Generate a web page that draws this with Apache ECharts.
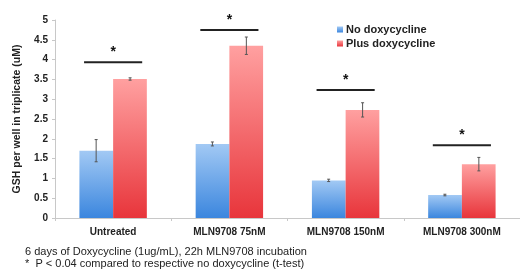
<!DOCTYPE html>
<html><head><meta charset="utf-8">
<script src="https://cdn.jsdelivr.net/npm/echarts@6/dist/echarts.min.js"></script>
<style>html,body{margin:0;padding:0;background:#fff}#c{width:520px;height:279px}</style>
</head><body><div id="c"></div>
<script>
var categories = ['Untreated', 'MLN9708 75nM', 'MLN9708 150nM', 'MLN9708 300nM'];
var noDoxy = [1.70, 1.87, 0.95, 0.58];
var noDoxyErr = [0.28, 0.05, 0.03, 0.02];
var plusDoxy = [3.51, 4.35, 2.73, 1.36];
var plusDoxyErr = [0.03, 0.22, 0.18, 0.17];
var sigLevel = [3.93, 4.75, 3.23, 1.84];
var yTicks = ['0', '0.5', '1', '1.5', '2', '2.5', '3', '3.5', '4', '4.5', '5'];
var footnotes = ['6 days of Doxycycline (1ug/mL), 22h MLN9708 incubation', '*  P < 0.04 compared to respective no doxycycline (t-test)'];

var chart = echarts.init(document.getElementById('c'));
var FONT = 'Liberation Sans, Arial, sans-serif';

function errSeries(vals, errs, side) {
  return {
    type: 'custom', z: 5, silent: true,
    data: vals.map(function (v, i) { return [i, v, errs[i]]; }),
    renderItem: function (params, api) {
      var i = api.value(0), v = api.value(1), e = api.value(2);
      var size = api.size([1, 0])[0];
      var c = api.coord([i, v]);
      var x = c[0] + side * size * 0.146;
      var top = api.coord([i, v + e])[1];
      var bot = api.coord([i, v - e])[1];
      var st = { stroke: '#555', lineWidth: 1 };
      return { type: 'group', children: [
        { type: 'line', shape: { x1: x, y1: top, x2: x, y2: bot }, style: st },
        { type: 'line', shape: { x1: x - 1.5, y1: top, x2: x + 1.5, y2: top }, style: st },
        { type: 'line', shape: { x1: x - 1.5, y1: bot, x2: x + 1.5, y2: bot }, style: st }
      ]};
    }
  };
}

function grad(top, bottom) {
  return new echarts.graphic.LinearGradient(0, 0, 0, 1, [{ offset: 0, color: top }, { offset: 1, color: bottom }]);
}

chart.setOption({
  animation: false,
  textStyle: { fontFamily: FONT },
  grid: { left: 55, right: -8, top: 20, bottom: 61 },
  legend: {
    orient: 'vertical', left: 332, top: 19, itemWidth: 6, itemHeight: 6, itemGap: 3,
    icon: 'rect',
    textStyle: { fontFamily: FONT, fontWeight: 'bold', fontSize: 11, color: '#222', padding: [0, 0, 0, -2] },
    data: ['No doxycycline', 'Plus doxycycline']
  },
  xAxis: {
    type: 'category', data: categories,
    axisLine: { lineStyle: { color: '#c8c8c8' } },
    axisTick: { show: true, length: 3, lineStyle: { color: '#c8c8c8' } },
    axisLabel: { fontFamily: FONT, fontWeight: 'bold', fontSize: 10, color: '#222', margin: 9 }
  },
  yAxis: {
    type: 'value', min: 0, max: 5, interval: 0.5,
    name: 'GSH per well in triplicate (uM)', nameLocation: 'middle', nameGap: 32, nameRotate: 90,
    nameTextStyle: { fontFamily: FONT, fontWeight: 'bold', fontSize: 10.5, color: '#222' },
    axisLine: { show: true, lineStyle: { color: '#c8c8c8' } },
    axisTick: { show: true, length: 3, lineStyle: { color: '#c8c8c8' } },
    splitLine: { show: false },
    axisLabel: { fontFamily: FONT, fontWeight: 'bold', fontSize: 10, color: '#222', margin: 7,
      formatter: function (v) { return yTicks[Math.round(v * 2)]; } }
  },
  series: [
    { name: 'No doxycycline', type: 'bar', data: noDoxy, barGap: '0%', barCategoryGap: '42%',
      itemStyle: { color: grad('#a2c9f4', '#3b86de') } },
    { name: 'Plus doxycycline', type: 'bar', data: plusDoxy,
      itemStyle: { color: grad('#ffa0a0', '#e8353b') } },
    errSeries(noDoxy, noDoxyErr, -1),
    errSeries(plusDoxy, plusDoxyErr, 1),
    { type: 'custom', z: 6, silent: true,
      data: sigLevel.map(function (v, i) { return [i, v]; }),
      renderItem: function (params, api) {
        var c = api.coord([api.value(0), api.value(1)]);
        var size = api.size([1, 0])[0];
        var half = size * 0.25;
        return { type: 'group', children: [
          { type: 'line', shape: { x1: c[0] - half, y1: c[1], x2: c[0] + half, y2: c[1] },
            style: { stroke: '#222', lineWidth: 2 } },
          { type: 'text', x: c[0], y: c[1] - 3,
            style: { text: '*', fontFamily: FONT, fontWeight: 'bold', fontSize: 14, fill: '#111', align: 'center', verticalAlign: 'bottom' } }
        ]};
      }
    }
  ],
  graphic: footnotes.map(function (t, i) {
    return { type: 'text', left: 25, top: 246 + i * 12.5,
      style: { text: t, fontFamily: FONT, fontSize: 11, fill: '#222' } };
  })
});
</script></body></html>
